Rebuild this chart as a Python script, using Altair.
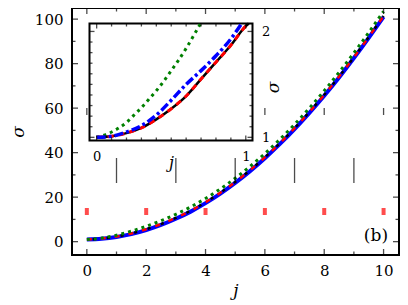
import altair as alt
import pandas as pd

# ---------------- data ----------------
main_j = [0, 0.5, 1, 1.5, 2, 2.5, 3, 3.5, 4, 4.5, 5, 5.5, 6, 6.5, 7, 7.5, 8, 8.5, 9, 9.5, 10]
main_blue = [1.0, 1.3, 2.1, 3.4, 5.2, 7.5, 10.3, 13.5, 17.3, 21.6, 26.4, 31.7, 37.5, 43.8, 50.6, 57.9, 65.6, 73.8, 82.5, 91.6, 101.0]
main_red = [1.0, 1.4, 2.3, 3.7, 5.6, 7.9, 10.7, 13.9, 17.7, 22.0, 26.8, 32.1, 37.9, 44.2, 51.0, 58.3, 66.0, 74.2, 82.9, 92.0, 101.4]
main_black = [1.0, 1.4, 2.3, 3.7, 5.6, 7.9, 10.7, 13.9, 17.7, 22.0, 26.8, 32.1, 37.9, 44.2, 51.0, 58.3, 66.0, 74.2, 82.9, 92.0, 101.4]
main_green = [1.0, 1.6, 2.9, 4.7, 6.9, 9.4, 12.3, 15.6, 19.4, 23.7, 28.5, 33.8, 39.6, 45.9, 52.7, 60.0, 67.8, 76.1, 84.8, 94.0, 103.5]

inset_green_j = [0, 0.05, 0.1, 0.15, 0.2, 0.25, 0.3, 0.35, 0.4, 0.45, 0.5, 0.55, 0.6, 0.65, 0.695]
inset_green = [1.0, 1.02, 1.05, 1.09, 1.14, 1.21, 1.28, 1.36, 1.44, 1.53, 1.63, 1.73, 1.84, 1.96, 2.07]
inset_blue_j = [0, 0.1, 0.2, 0.3, 0.4, 0.5, 0.6, 0.7, 0.8, 0.9, 0.97]
inset_blue = [1.0, 1.01, 1.05, 1.11, 1.21, 1.35, 1.50, 1.63, 1.77, 1.93, 2.07]
inset_red_j = [0, 0.1, 0.2, 0.3, 0.4, 0.5, 0.6, 0.7, 0.8, 0.9, 1.0, 1.02]
inset_red = [1.0, 1.01, 1.04, 1.09, 1.17, 1.27, 1.39, 1.55, 1.71, 1.87, 2.05, 2.075]
inset_black = [1.0, 1.01, 1.04, 1.09, 1.17, 1.27, 1.39, 1.55, 1.71, 1.87, 2.05, 2.075]

main_x_major = [0, 2, 4, 6, 8, 10]
main_x_minor = [1, 3, 5, 7, 9]
main_y_major = [0, 20, 40, 60, 80, 100]
main_y_minor = [10, 30, 50, 70, 90]
inset_x_major = [0, 1]
inset_x_minor = [0.1, 0.2, 0.3, 0.4, 0.5, 0.6, 0.7, 0.8, 0.9]
inset_y_major = [1, 2]
inset_y_minor = [1.1, 1.2, 1.3, 1.4, 1.5, 1.6, 1.7, 1.8, 1.9]
panel_label = "(b)"

# ---------------- layout ----------------
W, H = 327, 247
FONT = "DejaVu Serif"
MX = [-0.5, 10.52]
MY = [-6, 105]
IX = [-0.048, 1.045]
IY = [0.97, 2.075]
IXR = [17.5, 180.5]
IYR = [132.5, 15.5]
MAJ, MIN = 6.0, 3.5
IMAJ, IMIN = 5.0, 3.0
TW = 1.3


def mxs():
    return alt.Scale(domain=MX, nice=False, zero=False)


def mys():
    return alt.Scale(domain=MY, nice=False, zero=False)


def ixs():
    return alt.Scale(domain=IX, range=IXR, nice=False, zero=False)


def iys():
    return alt.Scale(domain=IY, range=IYR, nice=False, zero=False)


mx_axis = alt.Axis(orient="bottom", values=main_x_major, ticks=False, domain=False,
                   grid=False, labelPadding=8, labelFontSize=15, title="j",
                   titlePadding=4, titleFontSize=17, titleFontStyle="italic", format="d")
my_axis = alt.Axis(orient="left", values=main_y_major, ticks=False, domain=False,
                   grid=False, labelPadding=9, labelFontSize=15, title="σ",
                   titlePadding=7, titleFontSize=17, titleFontStyle="italic",
                   titleAngle=270, format="d")
ix_axis = alt.Axis(orient="bottom", offset=IYR[0] - H, values=inset_x_major, ticks=False,
                   domain=False, grid=False, labelPadding=10, labelFontSize=13,
                   title="j", titleFontSize=16, titleFontStyle="italic",
                   titleBaseline="alphabetic", titleY=27, format="d", zindex=2)
iy_axis = alt.Axis(orient="right", offset=IXR[1] - W, values=inset_y_major, ticks=False,
                   domain=False, grid=False, labelPadding=9, labelFontSize=13,
                   title="σ", titleFontSize=17, titleFontStyle="italic",
                   titleAngle=270, titleAlign="center", titleBaseline="middle",
                   titleX=21, titleY=79, format="d", zindex=2)


def line(js, ss, xs, ys, xa=None, ya=None, **mk):
    df = pd.DataFrame({"j": js, "s": ss})
    return alt.Chart(df).mark_line(strokeCap="butt", interpolate="monotone", **mk).encode(
        x=alt.X("j:Q", scale=xs, axis=xa),
        y=alt.Y("s:Q", scale=ys, axis=ya),
    )


def xticks(vals, scale, edge, length, inward, color="black", tw=TW):
    centre = edge + inward * length / 2
    return alt.Chart(pd.DataFrame({"v": vals})).mark_tick(
        color=color, thickness=tw, size=length, orient="vertical").encode(
        x=alt.X("v:Q", scale=scale, axis=None),
        y=alt.value(centre))


def yticks(vals, scale, edge, length, inward):
    centre = edge + inward * length / 2
    return alt.Chart(pd.DataFrame({"v": vals})).mark_tick(
        color="black", thickness=TW, size=length, orient="horizontal").encode(
        y=alt.Y("v:Q", scale=scale, axis=None),
        x=alt.value(centre))


GREEN = "#008000"
BLUE = "#0000ff"
RED = "#ff0000"

main_layers = [
    line(main_j, main_blue, mxs(), mys(), mx_axis, my_axis, color=BLUE, strokeWidth=4),
    line(main_j, main_black, mxs(), mys(), color="black",
         strokeWidth=2.5, strokeDash=[3, 11], strokeDashOffset=8),
    line(main_j, main_red, mxs(), mys(), color=RED,
         strokeWidth=2.5, strokeDash=[5, 9]),
    line(main_j, main_green, mxs(), mys(), color=GREEN,
         strokeWidth=3, strokeDash=[3, 4]),
    alt.Chart(pd.DataFrame({"t": [panel_label]})).mark_text(
        align="right", baseline="middle", font=FONT, fontSize=17, color="black"
    ).encode(
        x=alt.datum(10.15, scale=mxs(), axis=None),
        y=alt.datum(2.5, scale=mys(), axis=None),
        text="t:N",
    ),
    xticks(main_x_major, mxs(), H, MAJ, -1),
    xticks(main_x_minor, mxs(), H, MIN, -1),
    xticks(main_x_major, mxs(), 0, MAJ, 1),
    xticks(main_x_minor, mxs(), 0, MIN, 1),
    yticks(main_y_major, mys(), 0, MAJ, 1),
    yticks(main_y_minor, mys(), 0, MIN, 1),
    yticks(main_y_major, mys(), W, MAJ, -1),
    yticks(main_y_minor, mys(), W, MIN, -1),
    # diagnostics: small black ticks away from the frame, thick small ones
    xticks(main_x_major, mxs(), 100, 7, 1),
    xticks(main_x_minor, mxs(), 150, 25, 1),
    xticks(main_x_major, mxs(), 200, 7, 1, color="red", tw=4),
]

inset_layers = [
    alt.Chart(pd.DataFrame({"a": [0]})).mark_rect(
        fill="white", stroke="black", strokeWidth=2).encode(
        x=alt.datum(IX[0], scale=ixs(), axis=ix_axis),
        x2=alt.datum(IX[1]),
        y=alt.datum(IY[0], scale=iys(), axis=iy_axis),
        y2=alt.datum(IY[1]),
    ),
    line(inset_green_j, inset_green, ixs(), iys(), color=GREEN,
         strokeWidth=3, strokeDash=[3, 4]),
    line(inset_red_j, inset_black, ixs(), iys(), color="black", strokeWidth=2.5),
    line(inset_red_j, inset_red, ixs(), iys(), color=RED,
         strokeWidth=3, strokeDash=[6, 5]),
    line(inset_blue_j, inset_blue, ixs(), iys(), color=BLUE,
         strokeWidth=3.5, strokeDash=[9, 3, 3, 3]),
    xticks(inset_x_major, ixs(), IYR[0], IMAJ, -1),
    xticks(inset_x_minor, ixs(), IYR[0], IMIN, -1),
    xticks(inset_x_major, ixs(), IYR[1], IMAJ, 1),
    xticks(inset_x_minor, ixs(), IYR[1], IMIN, 1),
    yticks(inset_y_major, iys(), IXR[0], IMAJ, 1),
    yticks(inset_y_minor, iys(), IXR[0], IMIN, 1),
    yticks(inset_y_major, iys(), IXR[1], IMAJ, -1),
    yticks(inset_y_minor, iys(), IXR[1], IMIN, -1),
]

chart = alt.layer(*main_layers, *inset_layers).resolve_scale(
    x="independent", y="independent"
).resolve_axis(
    x="independent", y="independent"
).properties(
    width=W, height=H, autosize="none",
    padding={"left": 64, "top": 0, "right": 1, "bottom": 50},
).configure_view(
    stroke="black", strokeWidth=2
).configure_axis(
    labelFont=FONT, titleFont=FONT, labelColor="black", titleColor="black",
    titleFontWeight="normal",
)

chart.save("out.html", embed_options={"renderer": "svg", "actions": False})
